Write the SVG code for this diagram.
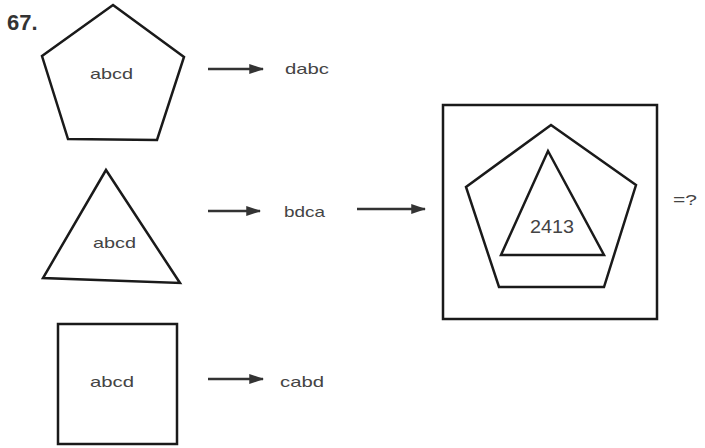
<svg xmlns="http://www.w3.org/2000/svg" width="705" height="448" viewBox="0 0 705 448">
<style>
.s{fill:none;stroke:#1a1a1a;stroke-width:2.5;stroke-linejoin:miter}
.t{font-family:"Liberation Sans",Arial,sans-serif;font-size:15px;fill:#444}
.c{stroke:#333;stroke-width:2.5;fill:none}
</style>
<defs>
<marker id="ah" markerWidth="6" markerHeight="4" refX="5.5" refY="2" orient="auto" markerUnits="strokeWidth"><path d="M0,0 L6,2 L0,4 z" fill="#333"/></marker>
</defs>
<rect width="705" height="448" fill="#fff"/>
<text x="7" y="30" style="font-family:'Liberation Sans',Arial,sans-serif;font-size:22px;font-weight:bold;fill:#333">67.</text>
<g id="pentagon1">
<polygon class="s" points="113,5 184,57 157,140 68,139 42,56"/>
<text class="t" x="90" y="79" textLength="43" lengthAdjust="spacingAndGlyphs">abcd</text>
</g>
<g id="triangle1">
<polygon class="s" points="106,170 180,283 43,278"/>
<text class="t" x="93" y="248" textLength="43" lengthAdjust="spacingAndGlyphs">abcd</text>
</g>
<g id="square1">
<rect class="s" x="58" y="324" width="119" height="120"/>
<text class="t" x="90" y="387" textLength="44" lengthAdjust="spacingAndGlyphs">abcd</text>
</g>
<g id="out1"><text class="t" x="285" y="74" textLength="44" lengthAdjust="spacingAndGlyphs">dabc</text></g>
<g id="out2"><text class="t" x="284" y="217" textLength="41" lengthAdjust="spacingAndGlyphs">bdca</text></g>
<g id="out3"><text class="t" x="280" y="387" textLength="44" lengthAdjust="spacingAndGlyphs">cabd</text></g>
<g id="result">
<rect class="s" x="443" y="105" width="214" height="214"/>
<polygon class="s" points="551,125 636,185 604,287 499,287 466,187"/>
<polygon class="s" points="548,151 604,255 501,255"/>
<text x="530" y="233" textLength="44" lengthAdjust="spacingAndGlyphs" style="font-family:'Liberation Sans',Arial,sans-serif;font-size:19px;fill:#444">2413</text>
</g>
<g id="q"><text x="673" y="205" textLength="24" lengthAdjust="spacingAndGlyphs" style="font-family:'Liberation Sans',Arial,sans-serif;font-size:14px;fill:#444">=?</text></g>
<g id="connectors">
<line class="c" x1="208" y1="69" x2="263" y2="69" marker-end="url(#ah)"/>
<line class="c" x1="208" y1="211" x2="260" y2="211" marker-end="url(#ah)"/>
<line class="c" x1="208" y1="379" x2="263" y2="379" marker-end="url(#ah)"/>
<line class="c" x1="357" y1="209" x2="425" y2="209" stroke-width="3.5" marker-end="url(#ah)"/>
</g>
</svg>
